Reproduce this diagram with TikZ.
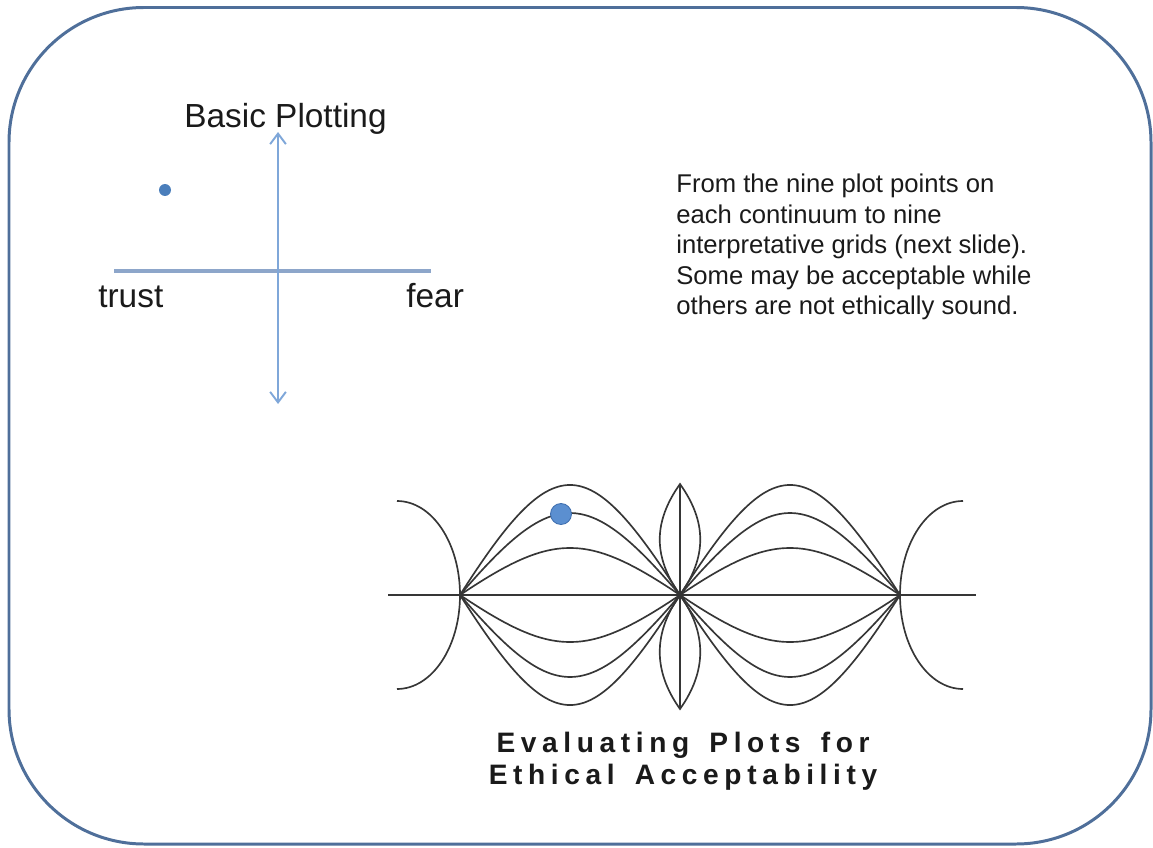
\documentclass[tikz,border=0pt]{standalone}
\usepackage{fontspec}
\setmainfont{Liberation Sans}
\newfontfamily\evaltitlefont[LetterSpace=20,WordSpace=1.5]{Liberation Sans}
\usetikzlibrary{arrows.meta}
\definecolor{frameblue}{HTML}{4F6F9A}
\definecolor{axisblue}{HTML}{7FA7D9}
\definecolor{axisbar}{HTML}{8DA6CA}
\definecolor{dotblue}{HTML}{4A7EBB}
\definecolor{bigdot}{HTML}{5B8FD0}
\definecolor{bigdotline}{HTML}{3F6FAF}
\definecolor{curvegray}{HTML}{363636}
\definecolor{textdark}{HTML}{1A1A1A}
\begin{document}
\begin{tikzpicture}[x=0.02cm,y=-0.02cm,
  curve/.style={draw=curvegray,line width=0.95pt},
  labeltext/.style={inner sep=0pt,text=textdark,font=\fontsize{19}{23}\selectfont},
  barb/.style={{Straight Barb[length=6pt,width=9pt]}-{Straight Barb[length=6pt,width=9pt]}}]
\useasboundingbox (0,0) rectangle (1153,848);
% frame
\draw[frameblue,line width=1.7pt,rounded corners=2.7cm] (9,7.5) rectangle (1151,844);
% basic plotting axes
\coordinate (vt) at (278,132);
\coordinate (vb) at (278,404);
\coordinate (hl) at (114,271);
\coordinate (hr) at (431,271);
\draw[axisbar,line width=2.3pt] (hl) -- (hr);
\draw[axisblue,line width=1.1pt,barb] (vb) -- (vt);
\node[circle,fill=dotblue,inner sep=0pt,minimum size=0.24cm] (pt) at (165,190) {};
\node[labeltext,anchor=base] (basic) at (285.5,128) {Basic Plotting};
\node[labeltext,anchor=base west] (trust) at (98,307) {trust};
\node[labeltext,anchor=base west] (fear) at (406,307) {fear};
% note
\node[anchor=north west,inner sep=0pt,align=left,text=textdark,
      font=\fontsize{14.6}{17.3}\selectfont] (note) at (676,174)
  {From the nine plot points on\\each continuum to nine\\interpretative grids (next slide).\\Some may be acceptable while\\others are not ethically sound.};
% evaluation diagram
\coordinate (L) at (460,595);
\coordinate (M) at (680,595);
\coordinate (R) at (900,595);
\coordinate (T) at (680,484);
\coordinate (B) at (680,709);
\coordinate (el) at (388,595);
\coordinate (er) at (976,595);
\coordinate (la) at (397,501);
\coordinate (lb) at (397,689);
\coordinate (ra) at (963,501);
\coordinate (rb) at (963,689);
\draw[curve] (el) -- (er);
\draw[curve] (T) -- (B);
\foreach \b in {146.7,109.3,62.7} {
  \draw[curve] (L) .. controls +(93.4,-\b) and +(-93.4,-\b) .. (M)
                   .. controls +(93.4,-\b) and +(-93.4,-\b) .. (R);
  \draw[curve] (L) .. controls +(93.4,\b) and +(-93.4,\b) .. (M)
                   .. controls +(93.4,\b) and +(-93.4,\b) .. (R);
}
\draw[curve] (la) .. controls +(35,0) and +(0,-52) .. (L) .. controls +(0,52) and +(35,0) .. (lb);
\draw[curve] (ra) .. controls +(-35,0) and +(0,-52) .. (R) .. controls +(0,52) and +(-35,0) .. (rb);
\draw[curve] (M) .. controls +(-27,-38) and +(-27,38) .. (T) .. controls +(27,38) and +(27,-38) .. (M);
\draw[curve] (M) .. controls +(-27,38) and +(-27,-38) .. (B) .. controls +(27,-38) and +(27,38) .. (M);
\node[circle,fill=bigdot,draw=bigdotline,line width=0.5pt,inner sep=0pt,minimum size=0.42cm] (mark) at (561,514) {};
% title
\node[anchor=north,inner sep=0pt,align=center,text=textdark,
      font=\evaltitlefont\fontsize{16}{18.1}\selectfont\bfseries] (eval) at (683,731.5)
  {Evaluating Plots for\\Ethical Acceptability};
\end{tikzpicture}
\end{document}
